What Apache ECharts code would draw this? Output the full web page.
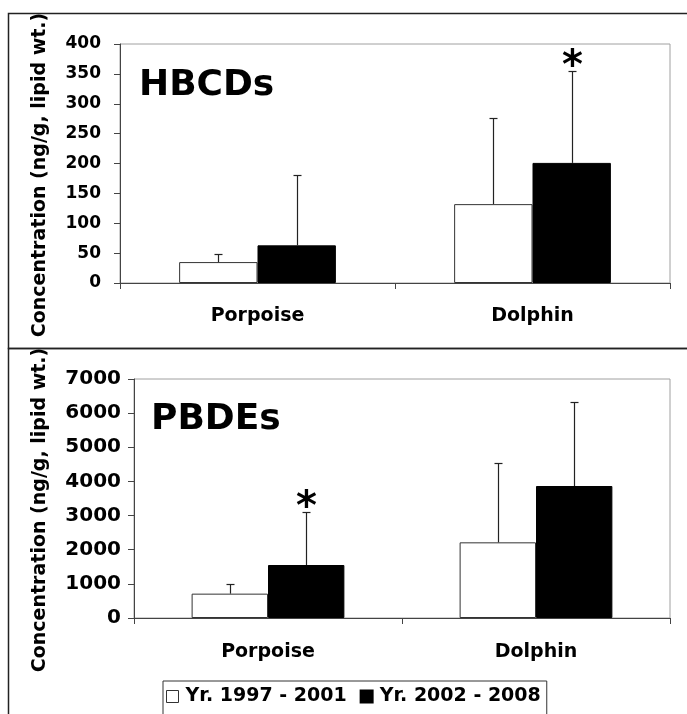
<!DOCTYPE html>
<html>
<head>
<meta charset="utf-8">
<script src="https://cdn.jsdelivr.net/npm/echarts@6/dist/echarts.min.js"></script>
<style>
html,body{margin:0;padding:0;background:#fff;}
#chart{width:687px;height:714px;}
</style>
</head>
<body>
<div id="chart"></div>
<script>
const categories = ['Porpoise', 'Dolphin'];
const seriesNames = ['Yr. 1997 - 2001', 'Yr. 2002 - 2008'];
const hbcdEarly = [35, 132];
const hbcdEarlySD = [14, 144];
const hbcdLate = [63, 201];
const hbcdLateSD = [118, 154];
const hbcdLateSig = [0, 1];
const pbdeEarly = [713, 2216];
const pbdeEarlySD = [283, 2334];
const pbdeLate = [1552, 3866];
const pbdeLateSD = [1543, 2451];
const pbdeLateSig = [1, 0];
const panelTitles = ['HBCDs', 'PBDEs'];
const yTitle = 'Concentration (ng/g, lipid wt.)';

const FONT = 'DejaVu Sans';
const BAR_GAP_CAT = '43%';
const HALF = 0.1425;

function errData(vals, sds, sig) {
  return vals.map((v, i) => [i, v, sds[i], sig ? sig[i] : 0]);
}
function errRender(frac) {
  return function (params, api) {
    const i = api.value(0), v = api.value(1), sd = api.value(2), sig = api.value(3);
    const base = api.coord([i, v]);
    const top = api.coord([i, v + sd]);
    const band = api.size([1, 0])[0];
    const x = Math.round(base[0] + frac * band) + 0.5;
    const ty = Math.round(top[1]) + 0.5;
    const ch = [
      {type: 'line', shape: {x1: x, y1: base[1], x2: x, y2: ty}, style: {stroke: '#222', lineWidth: 1.2}},
      {type: 'line', shape: {x1: x - 4, y1: ty, x2: x + 4, y2: ty}, style: {stroke: '#222', lineWidth: 1.2}}
    ];
    if (sig) {
      ch.push({type: 'text', x: x, y: ty - 4, style: {text: '*', font: 'bold 40px "' + FONT + '"', fill: '#000', align: 'center', verticalAlign: 'middle'}});
    }
    return {type: 'group', children: ch};
  };
}

const axisLabelStyle = {fontFamily: FONT, fontWeight: 'bold', color: '#000'};

function xAx(gi, margin) {
  return {
    type: 'category', gridIndex: gi, data: categories,
    axisLine: {lineStyle: {color: '#444', width: 1}},
    axisTick: {show: true, length: 6, lineStyle: {color: '#444'}},
    axisLabel: Object.assign({fontSize: 19, margin: margin}, axisLabelStyle)
  };
}
function yAx(gi, max, interval, margin, fs) {
  return {
    type: 'value', gridIndex: gi, min: 0, max: max, interval: interval,
    axisLine: {show: true, lineStyle: {color: '#444', width: 1}},
    axisTick: {show: true, length: 6, lineStyle: {color: '#444'}},
    splitLine: {show: false},
    axisLabel: Object.assign({fontSize: fs, margin: margin, formatter: v => String(v)}, axisLabelStyle)
  };
}
function bars(gi, vals, idx) {
  return {
    type: 'bar', name: seriesNames[idx], xAxisIndex: gi, yAxisIndex: gi,
    data: vals, barGap: '0%', barCategoryGap: BAR_GAP_CAT,
    itemStyle: idx === 0 ? {color: '#fff', borderColor: '#333', borderWidth: 1} : {color: '#000', borderColor: '#000', borderWidth: 1},
    emphasis: {disabled: true}, animation: false
  };
}
function errs(gi, vals, sds, sig, frac) {
  return {
    type: 'custom', xAxisIndex: gi, yAxisIndex: gi, z: 5,
    data: errData(vals, sds, sig), renderItem: errRender(frac),
    animation: false, silent: true
  };
}

const chart = echarts.init(document.getElementById('chart'), null, {renderer: 'canvas'});
chart.setOption({
  animation: false,
  backgroundColor: '#fff',
  textStyle: {fontFamily: FONT},
  grid: [
    {left: 120, top: 44, width: 550, height: 239, show: true, borderColor: '#a0a0a0', borderWidth: 1},
    {left: 134, top: 379, width: 536, height: 239, show: true, borderColor: '#a0a0a0', borderWidth: 1}
  ],
  xAxis: [xAx(0, 24), xAx(1, 25)],
  yAxis: [yAx(0, 400, 50, 19, 17), yAx(1, 7000, 1000, 13, 20)],
  legend: {
    data: [
      {name: seriesNames[0], icon: 'rect', itemStyle: {color: '#fff', borderColor: '#333', borderWidth: 1}},
      {name: seriesNames[1], icon: 'rect', itemStyle: {color: '#000'}}
    ],
    left: 163, top: 681,
    itemWidth: 12, itemHeight: 12, itemGap: 13,
    padding: [6, 6, 12, 3],
    borderColor: '#333', borderWidth: 1, backgroundColor: '#fff',
    selectedMode: false,
    textStyle: {fontFamily: FONT, fontWeight: 'bold', fontSize: 19, color: '#000', padding: [0, 0, 0, 2]}
  },
  series: [
    bars(0, hbcdEarly, 0), bars(0, hbcdLate, 1),
    bars(1, pbdeEarly, 0), bars(1, pbdeLate, 1),
    errs(0, hbcdEarly, hbcdEarlySD, null, -HALF),
    errs(0, hbcdLate, hbcdLateSD, hbcdLateSig, HALF),
    errs(1, pbdeEarly, pbdeEarlySD, null, -HALF),
    errs(1, pbdeLate, pbdeLateSD, pbdeLateSig, HALF)
  ],
  graphic: [
    {type: 'rect', z: 100, shape: {x: 8.5, y: 13.5, width: 700, height: 335}, style: {fill: 'none', stroke: '#222', lineWidth: 1.5}},
    {type: 'rect', z: 100, shape: {x: 8.5, y: 348.5, width: 700, height: 400}, style: {fill: 'none', stroke: '#222', lineWidth: 1.5}},
    {type: 'text', x: 139, y: 86, style: {text: panelTitles[0], font: 'bold 36px "' + FONT + '"', fill: '#000', verticalAlign: 'middle'}},
    {type: 'text', x: 151, y: 420, style: {text: panelTitles[1], font: 'bold 36px "' + FONT + '"', fill: '#000', verticalAlign: 'middle'}},
    {type: 'text', x: 40, y: 175, rotation: Math.PI / 2, style: {text: yTitle, font: 'bold 19px "' + FONT + '"', fill: '#000', align: 'center', verticalAlign: 'middle'}},
    {type: 'text', x: 40, y: 510, rotation: Math.PI / 2, style: {text: yTitle, font: 'bold 19px "' + FONT + '"', fill: '#000', align: 'center', verticalAlign: 'middle'}}
  ]
});
</script>
</body>
</html>
